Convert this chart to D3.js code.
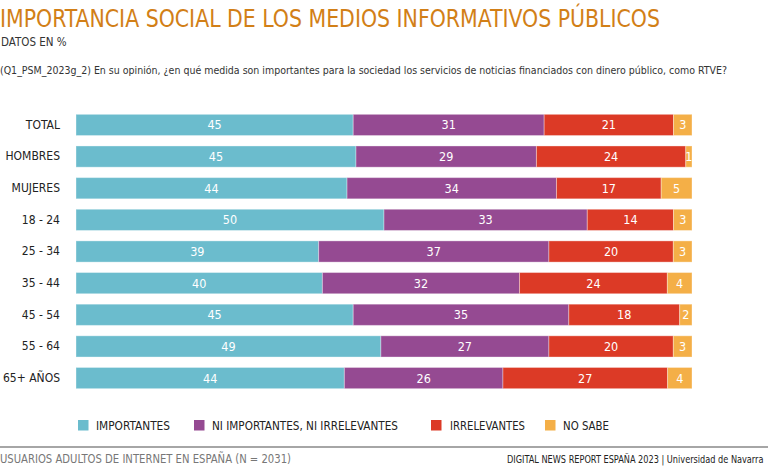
<!DOCTYPE html>
<html><head><meta charset="utf-8">
<script src="https://cdn.jsdelivr.net/npm/d3@7"></script>
<style>
body{margin:0;background:#fff;}
text{font-family:"Liberation Sans Narrow","DejaVu Sans Condensed","Roboto Condensed",sans-serif;}
</style></head>
<body><svg id="c" width="768" height="476"></svg>
<script>
const categories = ["TOTAL","HOMBRES","MUJERES","18 - 24","25 - 34","35 - 44","45 - 54","55 - 64","65+ AÑOS"];
const seriesNames = ["IMPORTANTES","NI IMPORTANTES, NI IRRELEVANTES","IRRELEVANTES","NO SABE"];
const importantes = [45,45,44,50,39,40,45,49,44];
const neutros = [31,29,34,33,37,32,35,27,26];
const irrelevantes = [21,24,17,14,20,24,18,20,27];
const noSabe = [3,1,5,3,3,4,2,3,4];
const colors = ["#6bbccd","#954a92","#dc3a26","#f4af47"];

const svg = d3.select("#c");
const W = 768, H = 476;

function fit(sel, len){ sel.attr("textLength",len).attr("lengthAdjust","spacingAndGlyphs"); return sel; }
function squeeze(x0, y0, len, size, fill, txt){
  const gg = svg.append("g");
  const t = gg.append("text").attr("x",0).attr("y",0).attr("font-size",size).attr("fill",fill).text(txt);
  const nat = t.node().getComputedTextLength() || len;
  gg.attr("transform",`translate(${x0},${y0}) scale(${Math.min(1,len/nat)},1)`);
}

fit(svg.append("text").attr("x",0).attr("y",27).attr("fill","#d27f17")
  .attr("font-size",25).text("IMPORTANCIA SOCIAL DE LOS MEDIOS INFORMATIVOS PÚBLICOS"), 660);
svg.append("text").attr("x",1).attr("y",46).attr("fill","#333").attr("font-size",11.5)
  .text("DATOS EN %");
fit(svg.append("text").attr("x",0).attr("y",74).attr("fill","#333").attr("font-size",10.5)
  .text("(Q1_PSM_2023g_2) En su opinión, ¿en qué medida son importantes para la sociedad los servicios de noticias financiados con dinero público, como RTVE?"), 727);

const rows = categories.map((c,i)=>({cat:c, s0:importantes[i], s1:neutros[i], s2:irrelevantes[i], s3:noSabe[i]}));
const keys = ["s0","s1","s2","s3"];
const stack = d3.stack().keys(keys).offset(d3.stackOffsetExpand)(rows);

const x = d3.scaleLinear().domain([0,1]).range([76,692]);
const y = d3.scaleBand().domain(categories).range([108,395]).paddingInner(0.33).paddingOuter(0.2);

const g = svg.append("g");
stack.forEach((layer,k)=>{
  const gg = g.append("g");
  gg.selectAll("rect").data(layer).join("rect")
    .attr("x",d=>x(d[0])).attr("width",d=>x(d[1])-x(d[0]))
    .attr("y",d=>y(d.data.cat)).attr("height",y.bandwidth())
    .attr("fill",colors[k]).attr("stroke","rgba(255,255,255,0.35)").attr("stroke-width",1);
  gg.selectAll("text").data(layer).join("text")
    .attr("x",d=>(x(d[0])+x(d[1]))/2).attr("y",d=>y(d.data.cat)+y.bandwidth()/2)
    .attr("dy","0.36em").attr("text-anchor","middle").attr("fill","#fff").attr("font-size",12.5)
    .text(d=>d.data[keys[k]]);
});

const yAxis = d3.axisLeft(y).tickSize(0).tickPadding(0);
const ax = svg.append("g").attr("transform","translate(60,0)").call(yAxis);
ax.select(".domain").remove();
ax.selectAll("text").attr("font-size",12).attr("fill","#222")
  .style("font-family","\"Liberation Sans Narrow\",\"DejaVu Sans Condensed\",sans-serif");

const legendX = [78,194,431,545];
const legendTextX = [96,212,450,563];
const legendLen = [74,186,75,46];
const lg = svg.append("g");
seriesNames.forEach((n,i)=>{
  lg.append("rect").attr("x",legendX[i]).attr("y",420).attr("width",10.5).attr("height",10.5).attr("fill",colors[i]);
  fit(lg.append("text").attr("x",legendTextX[i]).attr("y",429.5).attr("font-size",11.5).attr("fill","#222").text(n), legendLen[i]);
});

svg.append("line").attr("x1",0).attr("x2",W).attr("y1",447).attr("y2",447).attr("stroke","#888").attr("stroke-width",1.5);
fit(svg.append("text").attr("x",0).attr("y",463).attr("font-size",12).attr("fill","#777")
  .text("USUARIOS ADULTOS DE INTERNET EN ESPAÑA (N = 2031)"), 291);
squeeze(507, 463, 257, 11, "#222", "DIGITAL NEWS REPORT ESPAÑA 2023 | Universidad de Navarra");
</script></body></html>
